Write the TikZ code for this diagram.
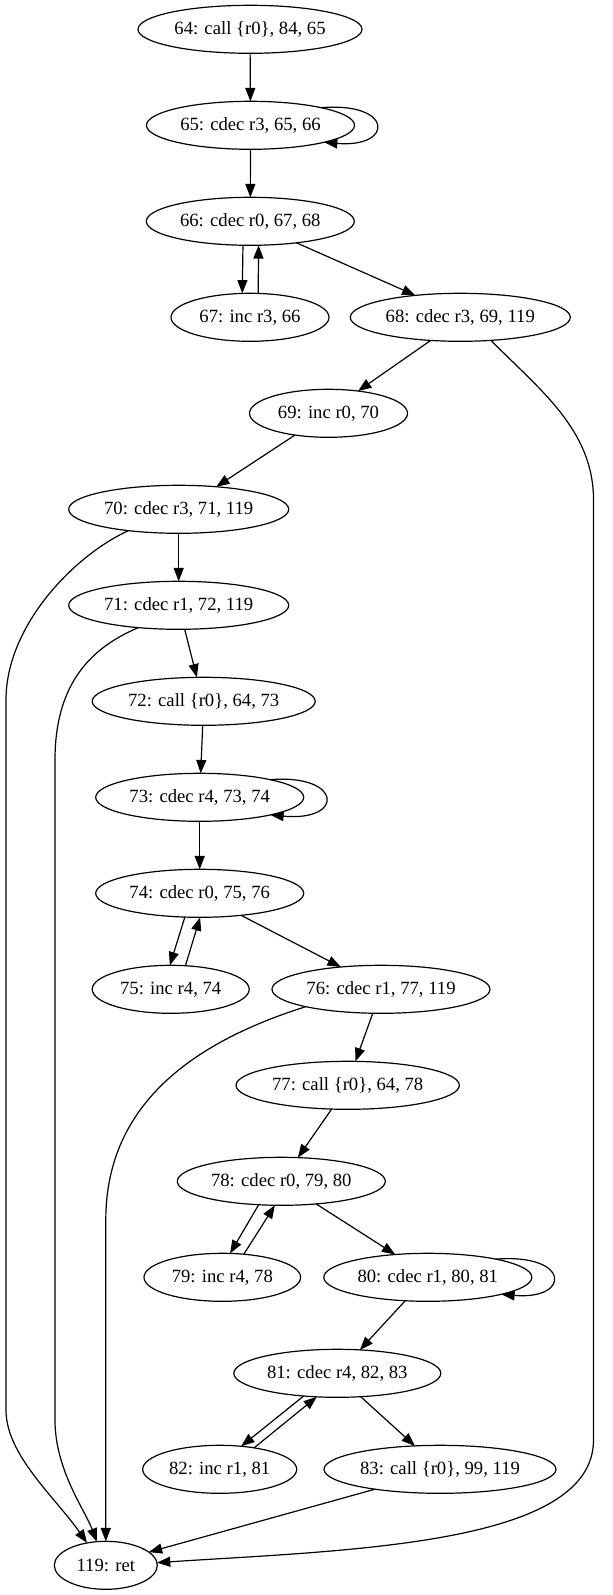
\documentclass[tikz,border=0pt]{standalone}
\usepackage{fontspec}
\setmainfont{Liberation Serif}
\usetikzlibrary{shapes.geometric,arrows.meta}
\begin{document}
\begin{tikzpicture}[x=0.75pt,y=-0.75pt,
  blk/.style={draw, ellipse, line width=0.9pt, inner sep=0pt, outer sep=0pt,
    minimum height=36pt, font=\fontsize{14pt}{16pt}\selectfont},
  link/.style={draw, line width=0.9pt, -{Triangle[length=10pt,width=7.5pt]}}]
\useasboundingbox (0,0) rectangle (613,1595);

% basic blocks, one per rank
\node[blk, minimum width=168pt]    (n64)  at (250,29.3)    {\makebox[0pt]{64: call \{r0\}, 84, 65}};
\node[blk, minimum width=156pt]    (n65)  at (250.5,125.3) {\makebox[0pt]{65: cdec r3, 65, 66}};
\node[blk, minimum width=156pt]    (n66)  at (250.3,221.3) {\makebox[0pt]{66: cdec r0, 67, 68}};
\node[blk, minimum width=118.5pt]  (n67)  at (250,317.3)   {\makebox[0pt]{67: inc r3, 66}};
\node[blk, minimum width=165pt]    (n68)  at (460.3,317.3) {\makebox[0pt]{68: cdec r3, 69, 119}};
\node[blk, minimum width=118.5pt]  (n69)  at (328.5,413.3) {\makebox[0pt]{69: inc r0, 70}};
\node[blk, minimum width=165pt]    (n70)  at (178.7,509.3) {\makebox[0pt]{70: cdec r3, 71, 119}};
\node[blk, minimum width=165pt]    (n71)  at (178.7,605.3) {\makebox[0pt]{71: cdec r1, 72, 119}};
\node[blk, minimum width=167.25pt] (n72)  at (203.7,701.3) {\makebox[0pt]{72: call \{r0\}, 64, 73}};
\node[blk, minimum width=156pt]    (n73)  at (199.7,797.3) {\makebox[0pt]{73: cdec r4, 73, 74}};
\node[blk, minimum width=156pt]    (n74)  at (199.7,893.3) {\makebox[0pt]{74: cdec r0, 75, 76}};
\node[blk, minimum width=117.75pt] (n75)  at (170.7,989.3) {\makebox[0pt]{75: inc r4, 74}};
\node[blk, minimum width=163.5pt]  (n76)  at (381,989.3)   {\makebox[0pt]{76: cdec r1, 77, 119}};
\node[blk, minimum width=167.5pt]  (n77)  at (347.7,1085.3) {\makebox[0pt]{77: call \{r0\}, 64, 78}};
\node[blk, minimum width=156pt]    (n78)  at (281.3,1181.3) {\makebox[0pt]{78: cdec r0, 79, 80}};
\node[blk, minimum width=117.5pt]  (n79)  at (222.3,1277.3) {\makebox[0pt]{79: inc r4, 78}};
\node[blk, minimum width=156pt]    (n80)  at (427.8,1277.3) {\makebox[0pt]{80: cdec r1, 80, 81}};
\node[blk, minimum width=155.25pt] (n81)  at (337.3,1373.3) {\makebox[0pt]{81: cdec r4, 82, 83}};
\node[blk, minimum width=115.5pt]  (n82)  at (219.7,1469.3) {\makebox[0pt]{82: inc r1, 81}};
\node[blk, minimum width=174pt]    (n83)  at (440,1469.3)   {\makebox[0pt]{83: call \{r0\}, 99, 119}};
\node[blk, minimum width=77.25pt]  (n119) at (105.8,1565.3) {\makebox[0pt]{119: ret}};

% control-flow edges
\path[link] (n64) -- (n65);
\path[link] (n65.14) .. controls +(73,-6) and +(70,6) .. (n65.-13);
\path[link] (n65) -- (n66);
\path[link] (n66.-107) -- (n67.108);
\path[link] (n67.71) -- (n66.-71);
\path[link] (n66.-25) -- (n68.154);
\path[link] (n68.-142) -- (n69.37);
\path[link] (n68.-37) .. controls (540,390) and (593.5,430) .. (593.5,500)
  -- (593.5,1440) .. controls (593.5,1545) and (350,1550) .. (n119.3);
\path[link] (n69.-147) -- (n70.31);
\path[link] (n70) -- (n71);
\path[link] (n70.-157) .. controls (75,555) and (6,625) .. (6,700)
  -- (6,1410) .. controls (6,1455) and (55,1497) .. (n119.130);
\path[link] (n71.-76) -- (n72.106);
\path[link] (n71.-151) .. controls (85,650) and (55,690) .. (55,760)
  -- (55,1420) .. controls (55,1470) and (85,1510) .. (n119.111);
\path[link] (n72) -- (n73);
\path[link] (n73.14) .. controls +(72,-6) and +(75,7) .. (n73.-14);
\path[link] (n73) -- (n74);
\path[link] (n74.-122) -- (n75.92);
\path[link] (n75.58) -- (n74.-89);
\path[link] (n74.-28) -- (n76.151);
\path[link] (n76.-109) -- (n77.72);
\path[link] (n76.-167) .. controls (200,1040) and (105.8,1100) .. (105.8,1220) -- (n119.north);
\path[link] (n77.-124) -- (n78.55);
\path[link] (n78.-134) -- (n79.72);
\path[link] (n79.47) -- (n78.-105);
\path[link] (n78.-33) -- (n80.145);
\path[link] (n80.15) .. controls +(75,-6) and +(70,6) .. (n80.-13);
\path[link] (n80.-134) -- (n81.46);
\path[link] (n81.-146) -- (n82.47);
\path[link] (n82.32) -- (n81.-131);
\path[link] (n81.-45) -- (n83.137);
\path[link] (n83.-163) -- (n119.17);
\end{tikzpicture}
\end{document}
